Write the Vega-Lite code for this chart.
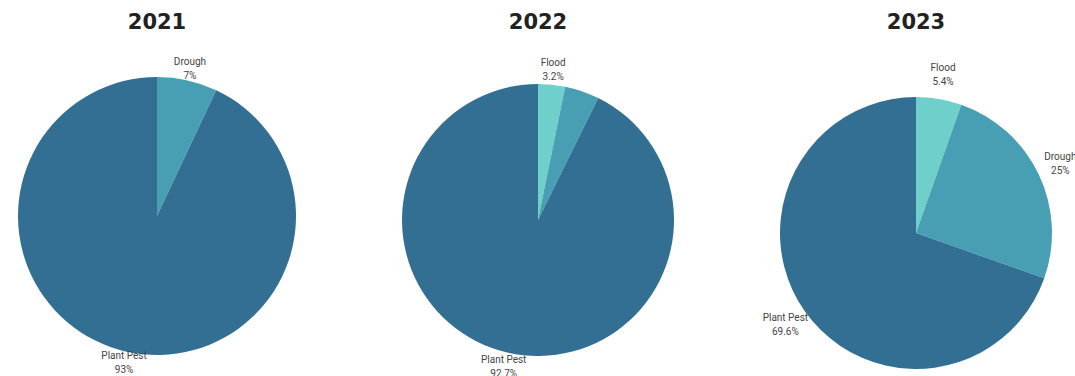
{
  "$schema": "https://vega.github.io/schema/vega-lite/v6.json",
  "padding": {"top": 12, "left": 0, "right": 0, "bottom": 0},
  "spacing": 74,
  "background": "white",
  "config": {
    "view": {"stroke": null},
    "title": {"font": "DejaVu Sans", "fontSize": 21, "fontWeight": "bold", "color": "#222222", "anchor": "middle", "offset": 10},
    "text": {"font": "Roboto", "fontSize": 10, "color": "#444444", "align": "center", "baseline": "middle"}
  },
  "datasets": {
    "pies": [
      {"year": 2021, "cat": "Drought", "ord": 2, "value": 7, "lname": "Drough", "lpct": "7%"},
      {"year": 2021, "cat": "Plant Pest", "ord": 3, "value": 93, "lname": "Plant Pest", "lpct": "93%"},
      {"year": 2022, "cat": "Flood", "ord": 1, "value": 3.2, "lname": "Flood", "lpct": "3.2%"},
      {"year": 2022, "cat": "Drought", "ord": 2, "value": 4.1, "lname": "", "lpct": ""},
      {"year": 2022, "cat": "Plant Pest", "ord": 3, "value": 92.7, "lname": "Plant Pest", "lpct": "92.7%"},
      {"year": 2023, "cat": "Flood", "ord": 1, "value": 5.4, "lname": "Flood", "lpct": "5.4%"},
      {"year": 2023, "cat": "Drought", "ord": 2, "value": 25, "lname": "Drough", "lpct": "25%"},
      {"year": 2023, "cat": "Plant Pest", "ord": 3, "value": 69.6, "lname": "Plant Pest", "lpct": "69.6%"}
    ]
  },
  "hconcat": [
    {
      "title": "2021",
      "width": 314,
      "height": 346,
      "data": {"name": "pies"},
      "transform": [{"filter": "datum.year == 2021"}],
      "encoding": {
        "theta": {"field": "value", "type": "quantitative", "stack": true},
        "order": {"field": "ord", "type": "quantitative"},
        "color": {"field": "cat", "type": "nominal", "scale": {"domain": ["Flood", "Drought", "Plant Pest"], "range": ["#6FCFCB", "#489FB3", "#336F93"]}, "legend": null}
      },
      "layer": [
        {"mark": {"type": "arc", "outerRadius": 139}},
        {"mark": {"type": "text", "radius": 151, "dy": -7}, "encoding": {"text": {"field": "lname"}, "color": {"value": "#444444"}}},
        {"mark": {"type": "text", "radius": 151, "dy": 7}, "encoding": {"text": {"field": "lpct"}, "color": {"value": "#444444"}}}
      ]
    },
    {
      "title": "2022",
      "width": 300,
      "height": 354,
      "data": {"name": "pies"},
      "transform": [{"filter": "datum.year == 2022"}],
      "encoding": {
        "theta": {"field": "value", "type": "quantitative", "stack": true},
        "order": {"field": "ord", "type": "quantitative"},
        "color": {"field": "cat", "type": "nominal", "scale": {"domain": ["Flood", "Drought", "Plant Pest"], "range": ["#6FCFCB", "#489FB3", "#336F93"]}, "legend": null}
      },
      "layer": [
        {"mark": {"type": "arc", "outerRadius": 136}},
        {"mark": {"type": "text", "radius": 151, "dy": -7}, "encoding": {"text": {"field": "lname"}, "color": {"value": "#444444"}}},
        {"mark": {"type": "text", "radius": 151, "dy": 7}, "encoding": {"text": {"field": "lpct"}, "color": {"value": "#444444"}}}
      ]
    },
    {
      "title": "2023",
      "width": 302,
      "height": 380,
      "data": {"name": "pies"},
      "transform": [{"filter": "datum.year == 2023"}],
      "encoding": {
        "theta": {"field": "value", "type": "quantitative", "stack": true},
        "order": {"field": "ord", "type": "quantitative"},
        "color": {"field": "cat", "type": "nominal", "scale": {"domain": ["Flood", "Drought", "Plant Pest"], "range": ["#6FCFCB", "#489FB3", "#336F93"]}, "legend": null}
      },
      "layer": [
        {"mark": {"type": "arc", "outerRadius": 136}},
        {"mark": {"type": "text", "radius": 160, "dy": -7}, "encoding": {"text": {"field": "lname"}, "color": {"value": "#444444"}}},
        {"mark": {"type": "text", "radius": 160, "dy": 7}, "encoding": {"text": {"field": "lpct"}, "color": {"value": "#444444"}}}
      ]
    }
  ]
}
